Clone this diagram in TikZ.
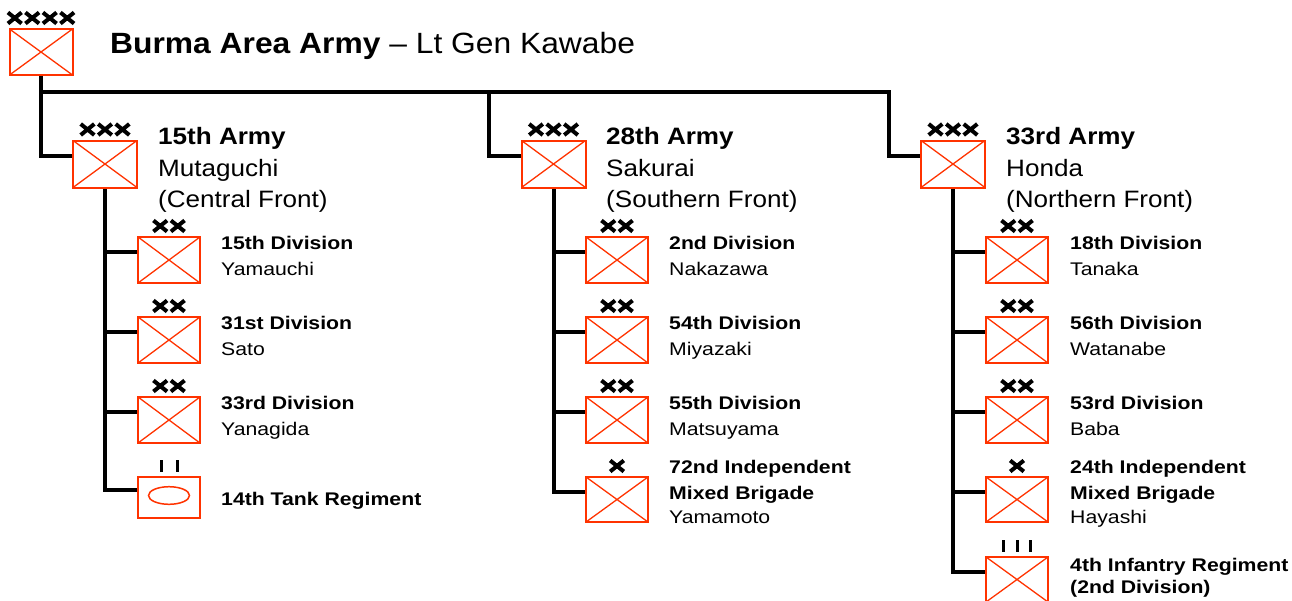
\documentclass[tikz,border=0pt]{standalone}
\usepackage{fontspec}
\setmainfont{Liberation Sans}[FakeStretch=1.16]
\newfontfamily\titlefam{Liberation Sans}[FakeStretch=1.085]
\newfontfamily\armyfam{Liberation Sans}[FakeStretch=1.10]
\usetikzlibrary{calc,backgrounds}
\definecolor{unitred}{HTML}{FF3300}
\tikzset{
  unitbox/.style={draw=unitred, line width=2pt, fill=white, inner sep=0pt,
    minimum width=62pt, minimum height=46pt,
    path picture={\draw[unitred, line width=1.3pt]
      (path picture bounding box.north west) -- (path picture bounding box.south east)
      (path picture bounding box.north east) -- (path picture bounding box.south west);}},
  armybox/.style={unitbox, minimum width=64pt, minimum height=47pt},
  topbox/.style={unitbox, minimum width=63pt, minimum height=46pt},
  brigbox/.style={unitbox, minimum height=45pt},
  tankbox/.style={draw=unitred, line width=2pt, fill=white, inner sep=0pt,
    minimum width=62pt, minimum height=41pt},
  conn/.style={draw=black, line width=4pt},
  echmark/.style={draw=black, line width=4pt},
  echbar/.style={draw=black, line width=3pt},
  txt/.style={anchor=base west, inner sep=0pt, text=black},
  titletxt/.style={txt, font=\titlefam\fontsize{29.3}{34}\selectfont},
  armytxt/.style={txt, font=\armyfam\fontsize{23.7}{28}\selectfont},
  divtxt/.style={txt, font=\fontsize{18.3}{22}\selectfont},
}
\newcommand\echx[2]{%
  \foreach \i in {1,...,#2}{%
    \pgfmathsetmacro\dx{(\i-(#2+1)/2)*17.5}%
    \draw[echmark] ($(#1.north)+(\dx-6.8,-15.5)$) -- ($(#1.north)+(\dx+6.8,-4.5)$)
                   ($(#1.north)+(\dx-6.8,-4.5)$) -- ($(#1.north)+(\dx+6.8,-15.5)$);
  }}
\newcommand\echbars[3]{%
  \foreach \i in {1,...,#2}{%
    \pgfmathsetmacro\dx{(\i-(#2+1)/2)*#3}%
    \draw[echbar] ($(#1.north)+(\dx,-16)$) -- ($(#1.north)+(\dx,-4)$);
  }}
\begin{document}
\begin{tikzpicture}[x=1pt,y=-1pt]
\useasboundingbox (0,0) rectangle (1292,600);

% top
\node[topbox] (top) at (41,52) {};
\node[titletxt] (title) at (110,53) {\textbf{Burma Area Army} – Lt Gen Kawabe};

% armies
\node[armybox] (a15) at (105,164) {};
\node[armybox] (a28) at (553.5,164) {};
\node[armybox] (a33) at (953,164) {};

\node[armytxt] (a15l1) at (158,144) {\textbf{15th Army}};
\node[armytxt] (a15l2) at (158,176) {Mutaguchi};
\node[armytxt] (a15l3) at (158,207) {(Central Front)};
\node[armytxt] (a28l1) at (606,144) {\textbf{28th Army}};
\node[armytxt] (a28l2) at (606,176) {Sakurai};
\node[armytxt] (a28l3) at (606,207) {(Southern Front)};
\node[armytxt] (a33l1) at (1006,144) {\textbf{33rd Army}};
\node[armytxt] (a33l2) at (1006,176) {Honda};
\node[armytxt] (a33l3) at (1006,207) {(Northern Front)};

% 15th Army units
\node[unitbox] (d15) at (169,260) {};
\node[unitbox] (d31) at (169,340) {};
\node[unitbox] (d33) at (169,420) {};
\node[tankbox] (t14) at (169,497.5) {};
\draw[unitred, line width=1.5pt] ($(t14.center)+(0,-2)$) ellipse [x radius=20.5pt, y radius=8.8pt];

\node[divtxt] (d15l1) at (221,249.3) {\textbf{15th Division}};
\node[divtxt] (d15l2) at (221,275) {Yamauchi};
\node[divtxt] (d31l1) at (221,329.3) {\textbf{31st Division}};
\node[divtxt] (d31l2) at (221,355) {Sato};
\node[divtxt] (d33l1) at (221,409.3) {\textbf{33rd Division}};
\node[divtxt] (d33l2) at (221,435) {Yanagida};
\node[divtxt] (t14l1) at (221,505) {\textbf{14th Tank Regiment}};

% 28th Army units
\node[unitbox] (d2) at (617,260) {};
\node[unitbox] (d54) at (617,340) {};
\node[unitbox] (d55) at (617,420) {};
\node[brigbox] (b72) at (617,499.5) {};

\node[divtxt] (d2l1) at (669,249.3) {\textbf{2nd Division}};
\node[divtxt] (d2l2) at (669,275) {Nakazawa};
\node[divtxt] (d54l1) at (669,329.3) {\textbf{54th Division}};
\node[divtxt] (d54l2) at (669,355) {Miyazaki};
\node[divtxt] (d55l1) at (669,409.3) {\textbf{55th Division}};
\node[divtxt] (d55l2) at (669,435) {Matsuyama};
\node[divtxt] (b72l1) at (669,473.3) {\textbf{72nd Independent}};
\node[divtxt] (b72l2) at (669,499) {\textbf{Mixed Brigade}};
\node[divtxt] (b72l3) at (669,523.3) {Yamamoto};

% 33rd Army units
\node[unitbox] (d18) at (1017,260) {};
\node[unitbox] (d56) at (1017,340) {};
\node[unitbox] (d53) at (1017,420) {};
\node[brigbox] (b24) at (1017,499.5) {};
\node[brigbox] (r4) at (1017,579.5) {};

\node[divtxt] (d18l1) at (1070,249.3) {\textbf{18th Division}};
\node[divtxt] (d18l2) at (1070,275) {Tanaka};
\node[divtxt] (d56l1) at (1070,329.3) {\textbf{56th Division}};
\node[divtxt] (d56l2) at (1070,355) {Watanabe};
\node[divtxt] (d53l1) at (1070,409.3) {\textbf{53rd Division}};
\node[divtxt] (d53l2) at (1070,435) {Baba};
\node[divtxt] (b24l1) at (1070,473.3) {\textbf{24th Independent}};
\node[divtxt] (b24l2) at (1070,499) {\textbf{Mixed Brigade}};
\node[divtxt] (b24l3) at (1070,523.3) {Hayashi};
\node[divtxt] (r4l1) at (1070,571) {\textbf{4th Infantry Regiment}};
\node[divtxt] (r4l2) at (1070,593) {\textbf{(2nd Division)}};

% echelon marks
\echx{top}{4}
\echx{a15}{3}
\echx{a28}{3}
\echx{a33}{3}
\foreach \n in {d15,d31,d33,d2,d54,d55,d18,d56,d53}{\echx{\n}{2}}
\echx{b72}{1}
\echx{b24}{1}
\echbars{t14}{2}{16}
\echbars{r4}{3}{13.5}

% connectors
\coordinate (j1) at (489,92);
\coordinate (j2) at (889,92);
\begin{scope}[on background layer]
\draw[conn] (top.south) |- ([yshift=8pt]a15.west);
\draw[conn] (top.south |- j2) -- (j2) |- ([yshift=8pt]a33.west);
\draw[conn] (j1) |- ([yshift=8pt]a28.west);
\foreach \n in {d15,d31,d33,t14}{\draw[conn] (a15.south) |- ([yshift=8pt]\n.west);}
\foreach \n in {d2,d54,d55,b72}{\draw[conn] (a28.south) |- ([yshift=8pt]\n.west);}
\foreach \n in {d18,d56,d53,b24,r4}{\draw[conn] (a33.south) |- ([yshift=8pt]\n.west);}
\end{scope}
\end{tikzpicture}
\end{document}
